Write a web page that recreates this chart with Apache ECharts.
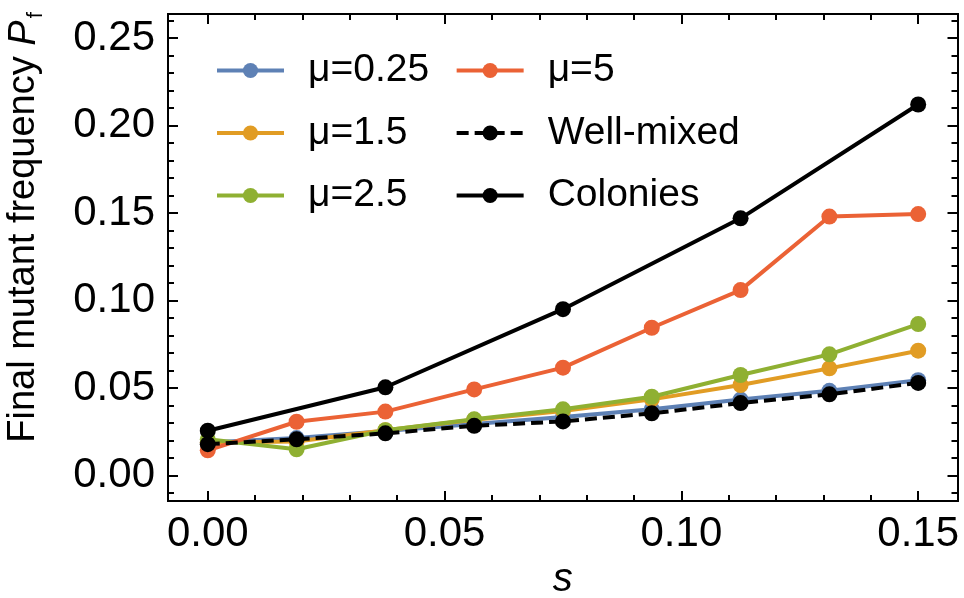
<!DOCTYPE html>
<html>
<head>
<meta charset="utf-8">
<script src="https://cdn.jsdelivr.net/npm/echarts@6/dist/echarts.min.js"></script>
<style>html,body{margin:0;padding:0;background:#fff;}#c{width:964px;height:598px;}</style>
</head>
<body>
<div id="c"></div>
<script>
// ---- data ----
const sValues = [0, 0.01875, 0.0375, 0.05625, 0.075, 0.09375, 0.1125, 0.13125, 0.15];
const colonyS = [0, 0.0375, 0.075, 0.1125, 0.15];
const mu025 = [0.019, 0.0215, 0.0255, 0.0295, 0.0335, 0.038, 0.0435, 0.0485, 0.0545];
const mu15 = [0.019, 0.0195, 0.026, 0.032, 0.037, 0.0436, 0.0518, 0.0613, 0.0714];
const mu25 = [0.0208, 0.0151, 0.026, 0.0322, 0.0379, 0.0451, 0.0575, 0.0693, 0.0866];
const mu5 = [0.0145, 0.0308, 0.0366, 0.0493, 0.0617, 0.0845, 0.106, 0.148, 0.1494];
const wellMixed = [0.018, 0.0208, 0.0242, 0.0285, 0.031, 0.0356, 0.0415, 0.0465, 0.053];
const colonies = [0.0257, 0.0505, 0.0951, 0.147, 0.212];
const seriesNames = ['μ=0.25', 'μ=1.5', 'μ=2.5', 'μ=5', 'Well-mixed', 'Colonies'];
const xMajorTicks = [0, 0.05, 0.10, 0.15];
const xMinorTicks = [0, 0.01, 0.02, 0.03, 0.04, 0.05, 0.06, 0.07, 0.08, 0.09, 0.10, 0.11, 0.12, 0.13, 0.14, 0.15];
const yMajorTicks = [0, 0.05, 0.10, 0.15, 0.20, 0.25];
const yMinorTicks = [-0.01, 0, 0.01, 0.02, 0.03, 0.04, 0.05, 0.06, 0.07, 0.08, 0.09, 0.10, 0.11, 0.12, 0.13, 0.14, 0.15, 0.16, 0.17, 0.18, 0.19, 0.20, 0.21, 0.22, 0.23, 0.24, 0.25, 0.26];

const XMIN = -0.0084, XMAX = 0.1583, YMIN = -0.01445, YMAX = 0.2637;
const FONT = '"Liberation Sans", Arial, sans-serif';

function pairs(xs, ys) { return xs.map((x, i) => [x, ys[i]]); }

function axis(dim, pos, ticks, len, labels) {
  return {
    type: 'value', position: pos,
    min: dim === 'x' ? XMIN : YMIN, max: dim === 'x' ? XMAX : YMAX,
    axisLine: { show: true, onZero: false, lineStyle: { color: '#000', width: 2 } },
    axisTick: { show: true, inside: true, length: len, customValues: ticks, lineStyle: { color: '#000', width: 2 } },
    axisLabel: { show: !!labels, customValues: ticks, formatter: v => v.toFixed(2),
      color: '#000', fontFamily: FONT, fontSize: 42, margin: dim === 'x' ? 12 : 13 },
    splitLine: { show: false }, minorTick: { show: false }
  };
}

const xAxes = [
  Object.assign(axis('x', 'bottom', xMajorTicks, 10, true), {
    name: 's', nameLocation: 'middle', nameGap: 49,
    nameTextStyle: { fontFamily: FONT, fontSize: 40, fontStyle: 'italic', color: '#000' }
  }),
  axis('x', 'bottom', xMinorTicks, 6, false),
  axis('x', 'top', xMajorTicks, 10, false),
  axis('x', 'top', xMinorTicks, 6, false)
];
const yAxes = [
  Object.assign(axis('y', 'left', yMajorTicks, 10, true), {
    name: '{t|Final mutant frequency }{p|P}{f|f}', nameLocation: 'middle', nameGap: 121, nameRotate: 90,
    nameTextStyle: {
      fontFamily: FONT, fontSize: 38, color: '#000', padding: [0, 0, 0, 60],
      rich: {
        t: { fontFamily: FONT, fontSize: 38, color: '#000' },
        p: { fontFamily: FONT, fontSize: 38, fontStyle: 'italic', color: '#000' },
        f: { fontFamily: FONT, fontSize: 22, color: '#000', padding: [24, 0, 0, 2] }
      }
    }
  }),
  axis('y', 'left', yMinorTicks, 6, false),
  axis('y', 'right', yMajorTicks, 10, false),
  axis('y', 'right', yMinorTicks, 6, false)
];

function line(name, data, color, dashed, z) {
  return {
    name, type: 'line', xAxisIndex: 0, yAxisIndex: 0, data,
    symbol: 'circle', symbolSize: 16, z,
    lineStyle: { color, width: 4, type: dashed ? [12, 6] : 'solid' },
    itemStyle: { color }, emphasis: { disabled: true }
  };
}

const option = {
  animation: false,
  backgroundColor: '#fff',
  grid: { left: 168, right: 6.5, top: 14, bottom: 97, outerBoundsMode: 'none', containLabel: false },
  legend: {
    orient: 'vertical', left: 210, top: 46, height: 185,
    itemWidth: 67, itemHeight: 19, itemGap: 23.5,
    lineStyle: { width: 4 },
    textStyle: { fontFamily: FONT, fontSize: 39, color: '#000', lineHeight: 23, padding: [0, 2, 0, 19] },
    data: seriesNames
  },
  xAxis: xAxes,
  yAxis: yAxes,
  series: [
    line(seriesNames[0], pairs(sValues, mu025), '#5E81B5', false, 2),
    line(seriesNames[1], pairs(sValues, mu15), '#E19C24', false, 3),
    line(seriesNames[2], pairs(sValues, mu25), '#8FB032', false, 4),
    line(seriesNames[3], pairs(sValues, mu5), '#EB6235', false, 5),
    line(seriesNames[4], pairs(sValues, wellMixed), '#000000', true, 6),
    line(seriesNames[5], pairs(colonyS, colonies), '#000000', false, 7)
  ]
};
const chart = echarts.init(document.getElementById('c'), null, { renderer: 'canvas' });
chart.setOption(option);
</script>
</body>
</html>
